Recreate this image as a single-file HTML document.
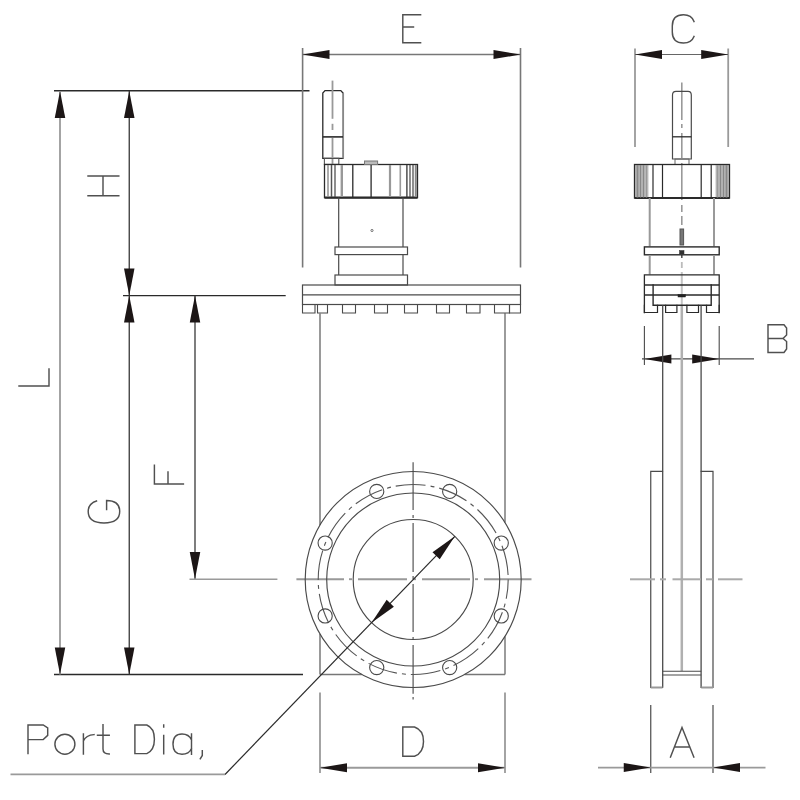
<!DOCTYPE html>
<html><head><meta charset="utf-8"><title>Gate valve drawing</title>
<style>html,body{margin:0;padding:0;background:#fff;font-family:"Liberation Sans",sans-serif;}svg{display:block}</style>
</head><body>
<svg width="800" height="800" viewBox="0 0 800 800">
<rect width="800" height="800" fill="#ffffff"/>
<line x1="54" y1="90.75" x2="309.5" y2="90.75" stroke="#2a2a2a" stroke-width="1.4" />
<line x1="123" y1="295.6" x2="285.7" y2="295.6" stroke="#2a2a2a" stroke-width="1.4" />
<line x1="54" y1="674.5" x2="303" y2="674.5" stroke="#2a2a2a" stroke-width="1.4" />
<line x1="60" y1="91" x2="60" y2="674.5" stroke="#9a9a9a" stroke-width="1.8" />
<line x1="129.25" y1="91" x2="129.25" y2="674.5" stroke="#383838" stroke-width="1.3" />
<line x1="195" y1="295.6" x2="195" y2="579" stroke="#383838" stroke-width="1.3" />
<polygon points="60.00,91.00 65.25,118.00 54.75,118.00" fill="#1c1616"/>
<polygon points="60.00,674.50 54.75,647.50 65.25,647.50" fill="#1c1616"/>
<polygon points="129.25,91.00 134.50,118.00 124.00,118.00" fill="#1c1616"/>
<polygon points="129.25,295.60 124.00,268.60 134.50,268.60" fill="#1c1616"/>
<polygon points="129.25,295.60 134.50,322.60 124.00,322.60" fill="#1c1616"/>
<polygon points="129.25,674.50 124.00,647.50 134.50,647.50" fill="#1c1616"/>
<polygon points="195.00,295.60 200.25,322.60 189.75,322.60" fill="#1c1616"/>
<polygon points="195.00,579.00 189.75,552.00 200.25,552.00" fill="#1c1616"/>
<line x1="189.5" y1="579.2" x2="277.4" y2="579.2" stroke="#9a9a9a" stroke-width="1.6" />
<line x1="296.4" y1="579.2" x2="344" y2="579.2" stroke="#999" stroke-width="1.9" />
<line x1="349" y1="579.2" x2="352" y2="579.2" stroke="#999" stroke-width="1.9" />
<line x1="358" y1="579.2" x2="407" y2="579.2" stroke="#999" stroke-width="1.9" />
<line x1="413" y1="579.2" x2="416" y2="579.2" stroke="#999" stroke-width="1.9" />
<line x1="422" y1="579.2" x2="470" y2="579.2" stroke="#999" stroke-width="1.9" />
<line x1="475" y1="579.2" x2="478" y2="579.2" stroke="#999" stroke-width="1.9" />
<line x1="484" y1="579.2" x2="531.5" y2="579.2" stroke="#999" stroke-width="1.9" />
<line x1="413.1" y1="462.3" x2="413.1" y2="510" stroke="#555" stroke-width="1.2" />
<line x1="413.1" y1="515" x2="413.1" y2="518" stroke="#555" stroke-width="1.2" />
<line x1="413.1" y1="523" x2="413.1" y2="572" stroke="#555" stroke-width="1.2" />
<line x1="413.1" y1="576" x2="413.1" y2="579" stroke="#555" stroke-width="1.2" />
<line x1="413.1" y1="584" x2="413.1" y2="632" stroke="#555" stroke-width="1.2" />
<line x1="413.1" y1="637" x2="413.1" y2="640" stroke="#555" stroke-width="1.2" />
<line x1="413.1" y1="645" x2="413.1" y2="693.7" stroke="#555" stroke-width="1.2" />
<line x1="413.1" y1="697" x2="413.1" y2="699.6" stroke="#555" stroke-width="1.2" />
<line x1="302.6" y1="48" x2="302.6" y2="267.5" stroke="#777" stroke-width="1.6" />
<line x1="520.5" y1="48" x2="520.5" y2="267.5" stroke="#777" stroke-width="1.6" />
<line x1="302.5" y1="54.6" x2="520.5" y2="54.6" stroke="#777" stroke-width="1.5" />
<polygon points="302.50,54.60 329.50,50.10 329.50,59.10" fill="#1c1616"/>
<polygon points="520.50,54.60 493.50,59.10 493.50,50.10" fill="#1c1616"/>
<line x1="635" y1="48.5" x2="635" y2="147" stroke="#9a9a9a" stroke-width="1.8" />
<line x1="728.2" y1="48.5" x2="728.2" y2="147" stroke="#9a9a9a" stroke-width="1.8" />
<line x1="635" y1="54.5" x2="728" y2="54.5" stroke="#666" stroke-width="1.2" />
<polygon points="635.00,54.50 662.00,50.00 662.00,59.00" fill="#1c1616"/>
<polygon points="728.20,54.50 701.20,59.00 701.20,50.00" fill="#1c1616"/>
<line x1="644.4" y1="326" x2="644.4" y2="365" stroke="#4a4a4a" stroke-width="1.1" />
<line x1="719.2" y1="326" x2="719.2" y2="365" stroke="#4a4a4a" stroke-width="1.1" />
<line x1="642" y1="358.9" x2="754" y2="358.9" stroke="#4a4a4a" stroke-width="1.2" />
<polygon points="644.40,358.90 671.40,354.40 671.40,363.40" fill="#1c1616"/>
<polygon points="719.20,358.90 692.20,363.40 692.20,354.40" fill="#1c1616"/>
<line x1="650.75" y1="705" x2="650.75" y2="773" stroke="#4a4a4a" stroke-width="1.2" />
<line x1="713" y1="705" x2="713" y2="773" stroke="#4a4a4a" stroke-width="1.2" />
<line x1="598" y1="767.6" x2="765.5" y2="767.6" stroke="#9a9a9a" stroke-width="1.8" />
<polygon points="650.75,767.60 623.75,772.10 623.75,763.10" fill="#1c1616"/>
<polygon points="713.00,767.60 740.00,763.10 740.00,772.10" fill="#1c1616"/>
<line x1="320" y1="692.5" x2="320" y2="773" stroke="#9a9a9a" stroke-width="1.8" />
<line x1="505" y1="692.5" x2="505" y2="773" stroke="#9a9a9a" stroke-width="1.8" />
<line x1="320" y1="767.8" x2="505" y2="767.8" stroke="#9a9a9a" stroke-width="2" />
<polygon points="320.00,767.80 347.00,763.30 347.00,772.30" fill="#1c1616"/>
<polygon points="505.00,767.80 478.00,772.30 478.00,763.30" fill="#1c1616"/>
<path d="M343,158.3 H322.8 V93 L325,90.6 H340.8 L343,93" stroke="#2a2a2a" stroke-width="1.3" fill="none" stroke-linecap="square" stroke-linejoin="miter" />
<line x1="343.1" y1="93" x2="343.1" y2="158.3" stroke="#888" stroke-width="1.9" />
<line x1="322.8" y1="136.9" x2="343" y2="136.9" stroke="#2a2a2a" stroke-width="1.6" />
<rect x="324.4" y="158.3" width="14.400000000000034" height="6.099999999999994" stroke="#555" stroke-width="1.1" fill="none"/>
<line x1="332.5" y1="80.6" x2="332.5" y2="118.8" stroke="#999" stroke-width="1.8" />
<line x1="332.5" y1="123.8" x2="332.5" y2="130" stroke="#999" stroke-width="1.8" />
<line x1="332.5" y1="138" x2="332.5" y2="157.5" stroke="#999" stroke-width="1.8" />
<line x1="332.5" y1="159" x2="332.5" y2="164" stroke="#999" stroke-width="1.8" />
<rect x="324.5" y="164.5" width="93.0" height="33.099999999999994" stroke="#2a2a2a" stroke-width="1.3" fill="none"/>
<line x1="324.5" y1="197.6" x2="417.5" y2="197.6" stroke="#2a2a2a" stroke-width="2.2" />
<line x1="328" y1="165" x2="328" y2="197" stroke="#888" stroke-width="1.4" />
<line x1="331.5" y1="165" x2="331.5" y2="197" stroke="#555" stroke-width="1.5" />
<line x1="335" y1="165" x2="335" y2="197" stroke="#444" stroke-width="1.2" />
<line x1="341.8" y1="165" x2="341.8" y2="197" stroke="#999" stroke-width="2.4" />
<line x1="352.8" y1="165" x2="352.8" y2="197" stroke="#2a2a2a" stroke-width="1.3" />
<line x1="371.1" y1="165" x2="371.1" y2="197" stroke="#2a2a2a" stroke-width="1.3" />
<line x1="390" y1="165" x2="390" y2="197" stroke="#999" stroke-width="2.2" />
<line x1="400.3" y1="165" x2="400.3" y2="197" stroke="#999" stroke-width="1.6" />
<line x1="406.9" y1="165" x2="406.9" y2="197" stroke="#333" stroke-width="1.3" />
<line x1="410" y1="165" x2="410" y2="197" stroke="#444" stroke-width="1.2" />
<line x1="413" y1="165" x2="413" y2="197" stroke="#444" stroke-width="1.2" />
<line x1="415.8" y1="165" x2="415.8" y2="197" stroke="#888" stroke-width="2" />
<rect x="364.5" y="161" width="13.100000000000023" height="3.5" stroke="#777" stroke-width="1" fill="#bbb"/>
<line x1="338.7" y1="197.6" x2="338.7" y2="247" stroke="#4a4a4a" stroke-width="1.2" />
<line x1="403" y1="197.6" x2="403" y2="247" stroke="#4a4a4a" stroke-width="1.2" />
<rect x="335" y="247" width="72.5" height="7.599999999999994" stroke="#4a4a4a" stroke-width="1.2" fill="none"/>
<line x1="338.7" y1="254.6" x2="338.7" y2="275" stroke="#4a4a4a" stroke-width="1.2" />
<line x1="403" y1="254.6" x2="403" y2="275" stroke="#4a4a4a" stroke-width="1.2" />
<rect x="335" y="275" width="72.5" height="10" stroke="#4a4a4a" stroke-width="1.2" fill="none"/>
<circle cx="372" cy="230.5" r="1.1" fill="none" stroke="#555" stroke-width="0.8"/>
<rect x="302.5" y="285" width="218.0" height="19.5" stroke="#4a4a4a" stroke-width="1.2" fill="none"/>
<line x1="302.5" y1="294.8" x2="520.5" y2="294.8" stroke="#4a4a4a" stroke-width="1.2" />
<path d="M302.5,304.5 V313 H315 V304.5" stroke="#4a4a4a" stroke-width="1.1" fill="none" stroke-linecap="square" stroke-linejoin="miter" />
<path d="M317.5,304.5 V313 H327.5 V304.5" stroke="#4a4a4a" stroke-width="1.1" fill="none" stroke-linecap="square" stroke-linejoin="miter" />
<path d="M342.5,304.5 V313 H355.5 V304.5" stroke="#4a4a4a" stroke-width="1.1" fill="none" stroke-linecap="square" stroke-linejoin="miter" />
<path d="M374.5,304.5 V313 H387.5 V304.5" stroke="#4a4a4a" stroke-width="1.1" fill="none" stroke-linecap="square" stroke-linejoin="miter" />
<path d="M404.5,304.5 V313 H417.5 V304.5" stroke="#4a4a4a" stroke-width="1.1" fill="none" stroke-linecap="square" stroke-linejoin="miter" />
<path d="M436.5,304.5 V313 H449.5 V304.5" stroke="#4a4a4a" stroke-width="1.1" fill="none" stroke-linecap="square" stroke-linejoin="miter" />
<path d="M466.5,304.5 V313 H480 V304.5" stroke="#4a4a4a" stroke-width="1.1" fill="none" stroke-linecap="square" stroke-linejoin="miter" />
<path d="M494.5,304.5 V313 H509.5 V304.5" stroke="#4a4a4a" stroke-width="1.1" fill="none" stroke-linecap="square" stroke-linejoin="miter" />
<path d="M509.5,304.5 V313 H520.5 V304.5" stroke="#4a4a4a" stroke-width="1.1" fill="none" stroke-linecap="square" stroke-linejoin="miter" />
<line x1="320" y1="313" x2="320" y2="525" stroke="#888" stroke-width="1.7" />
<line x1="320" y1="634" x2="320" y2="674.5" stroke="#888" stroke-width="1.7" />
<line x1="505" y1="313" x2="505" y2="522.6" stroke="#666" stroke-width="1.3" />
<line x1="505" y1="636.4" x2="505" y2="674.5" stroke="#666" stroke-width="1.3" />
<line x1="320" y1="674.5" x2="361.8" y2="674.5" stroke="#777" stroke-width="1.4" />
<line x1="464.6" y1="674.5" x2="505" y2="674.5" stroke="#777" stroke-width="1.4" />
<circle cx="413.2" cy="579.5" r="108" fill="none" stroke="#4a4a4a" stroke-width="1.15"/>
<circle cx="413.2" cy="579.5" r="86.5" fill="none" stroke="#4a4a4a" stroke-width="1.15"/>
<circle cx="413.2" cy="579.5" r="60" fill="none" stroke="#4a4a4a" stroke-width="1.15"/>
<circle cx="413.2" cy="579.5" r="95" fill="none" stroke="#555" stroke-width="1.1" stroke-dasharray="30 5 4 5" stroke-dashoffset="10.6"/>
<circle cx="449.67" cy="491.45" r="7.1" fill="none" stroke="#4a4a4a" stroke-width="1.1"/>
<circle cx="501.25" cy="543.03" r="7.1" fill="none" stroke="#4a4a4a" stroke-width="1.1"/>
<circle cx="501.25" cy="615.97" r="7.1" fill="none" stroke="#4a4a4a" stroke-width="1.1"/>
<circle cx="449.67" cy="667.55" r="7.1" fill="none" stroke="#4a4a4a" stroke-width="1.1"/>
<circle cx="376.73" cy="667.55" r="7.1" fill="none" stroke="#4a4a4a" stroke-width="1.1"/>
<circle cx="325.15" cy="615.97" r="7.1" fill="none" stroke="#4a4a4a" stroke-width="1.1"/>
<circle cx="325.15" cy="543.03" r="7.1" fill="none" stroke="#4a4a4a" stroke-width="1.1"/>
<circle cx="376.73" cy="491.45" r="7.1" fill="none" stroke="#4a4a4a" stroke-width="1.1"/>
<line x1="454.87950222753983" y1="536.339611979681" x2="225" y2="774.5" stroke="#2a2a2a" stroke-width="1.2" />
<polygon points="454.88,536.34 439.72,559.24 432.53,552.29" fill="#1c1616"/>
<polygon points="371.52,622.66 386.68,599.76 393.87,606.71" fill="#1c1616"/>
<line x1="10.5" y1="774.4" x2="225" y2="774.4" stroke="#9a9a9a" stroke-width="1.6" />
<line x1="681.8" y1="82.5" x2="681.8" y2="120" stroke="#999" stroke-width="1.6" />
<line x1="681.8" y1="124" x2="681.8" y2="128" stroke="#999" stroke-width="1.6" />
<line x1="681.8" y1="133" x2="681.8" y2="158" stroke="#999" stroke-width="1.6" />
<line x1="681.8" y1="163" x2="681.8" y2="200" stroke="#999" stroke-width="1.6" />
<line x1="681.8" y1="205" x2="681.8" y2="212" stroke="#999" stroke-width="1.6" />
<line x1="681.8" y1="216" x2="681.8" y2="225" stroke="#999" stroke-width="1.6" />
<line x1="681.8" y1="255" x2="681.8" y2="258" stroke="#555" stroke-width="1.6" />
<line x1="681.8" y1="262" x2="681.8" y2="268" stroke="#bbb" stroke-width="1.8" />
<line x1="681.8" y1="272" x2="681.8" y2="305" stroke="#c4c4c4" stroke-width="2" />
<line x1="681.8" y1="305" x2="681.8" y2="671" stroke="#b0b0b0" stroke-width="2.5" />
<path d="M672.5,159 V95 Q672.5,91.3 676,91.3 H688 Q691.3,91.3 691.3,95 V159 Z" stroke="#4a4a4a" stroke-width="1.2" fill="none" stroke-linecap="square" stroke-linejoin="miter" />
<line x1="672.5" y1="136.8" x2="691.3" y2="136.8" stroke="#2a2a2a" stroke-width="1.3" />
<rect x="675" y="159" width="14" height="5.5" stroke="#666" stroke-width="1" fill="none"/>
<rect x="634.5" y="164.5" width="14" height="33.5" fill="#c4c4c4"/>
<rect x="715.5" y="164.5" width="14" height="33.5" fill="#c4c4c4"/>
<rect x="634.5" y="164.5" width="95.0" height="33.5" stroke="#2a2a2a" stroke-width="1.3" fill="none"/>
<line x1="634.5" y1="198" x2="729.5" y2="198" stroke="#2a2a2a" stroke-width="2" />
<line x1="637.5" y1="165" x2="637.5" y2="197.5" stroke="#888" stroke-width="2" />
<line x1="640.5" y1="165" x2="640.5" y2="197.5" stroke="#888" stroke-width="1.6" />
<line x1="643.5" y1="165" x2="643.5" y2="197.5" stroke="#888" stroke-width="1.6" />
<line x1="646.5" y1="165" x2="646.5" y2="197.5" stroke="#999" stroke-width="1.6" />
<line x1="653" y1="165" x2="653" y2="197.5" stroke="#2a2a2a" stroke-width="1.2" />
<line x1="662.5" y1="165" x2="662.5" y2="197.5" stroke="#2a2a2a" stroke-width="1.2" />
<line x1="701.2" y1="165" x2="701.2" y2="197.5" stroke="#2a2a2a" stroke-width="1.2" />
<line x1="711.2" y1="165" x2="711.2" y2="197.5" stroke="#2a2a2a" stroke-width="1.2" />
<line x1="717.5" y1="165" x2="717.5" y2="197.5" stroke="#999" stroke-width="1.8" />
<line x1="720.5" y1="165" x2="720.5" y2="197.5" stroke="#888" stroke-width="1.6" />
<line x1="723.5" y1="165" x2="723.5" y2="197.5" stroke="#888" stroke-width="1.6" />
<line x1="726.5" y1="165" x2="726.5" y2="197.5" stroke="#888" stroke-width="2" />
<line x1="649.7" y1="198" x2="649.7" y2="246.3" stroke="#999" stroke-width="2" />
<line x1="714" y1="198" x2="714" y2="246.3" stroke="#999" stroke-width="2" />
<rect x="644.4" y="246.9" width="74.80000000000007" height="7.900000000000006" stroke="#2a2a2a" stroke-width="1.4" fill="none"/>
<line x1="649.7" y1="255" x2="649.7" y2="274.5" stroke="#999" stroke-width="2" />
<line x1="714" y1="255" x2="714" y2="274.5" stroke="#999" stroke-width="2" />
<path d="M644.4,312.5 V274.8 H719.2 V312.5" stroke="#2a2a2a" stroke-width="1.3" fill="none" stroke-linecap="square" stroke-linejoin="miter" />
<line x1="644.4" y1="285" x2="719.2" y2="285" stroke="#2a2a2a" stroke-width="1.4" />
<line x1="644.4" y1="295" x2="719.2" y2="295" stroke="#2a2a2a" stroke-width="1.4" />
<path d="M653.1,285 V305.3 H711.2 V285" stroke="#2a2a2a" stroke-width="1.4" fill="none" stroke-linecap="square" stroke-linejoin="miter" />
<path d="M644.4,305.3 V312.5 H657.5 V305.3" stroke="#2a2a2a" stroke-width="1.2" fill="none" stroke-linecap="square" stroke-linejoin="miter" />
<path d="M665.6,305.3 V312.5 H676.9 V305.3" stroke="#2a2a2a" stroke-width="1.2" fill="none" stroke-linecap="square" stroke-linejoin="miter" />
<path d="M686.9,305.3 V312.5 H698.5 V305.3" stroke="#2a2a2a" stroke-width="1.2" fill="none" stroke-linecap="square" stroke-linejoin="miter" />
<path d="M706.5,305.3 V312.5 H719.2 V305.3" stroke="#2a2a2a" stroke-width="1.2" fill="none" stroke-linecap="square" stroke-linejoin="miter" />
<rect x="680" y="229" width="3.6000000000000227" height="16" stroke="#555" stroke-width="1" fill="#777"/>
<rect x="679.5" y="250.5" width="4.5" height="3.5" stroke="#333" stroke-width="0.5" fill="#333"/>
<rect x="678" y="294.5" width="7.5" height="2.5" stroke="#222" stroke-width="0.5" fill="#222"/>
<line x1="662.7" y1="305.3" x2="662.7" y2="687.5" stroke="#4a4a4a" stroke-width="1.3" />
<line x1="701.1" y1="305.3" x2="701.1" y2="687.5" stroke="#4a4a4a" stroke-width="1.3" />
<path d="M662.5,471.3 H650.75 V687.5 H662.5" stroke="#4a4a4a" stroke-width="1.2" fill="none" stroke-linecap="square" stroke-linejoin="miter" />
<path d="M701.2,471.3 H713 V687.5 H701.2" stroke="#4a4a4a" stroke-width="1.2" fill="none" stroke-linecap="square" stroke-linejoin="miter" />
<line x1="650.75" y1="687.5" x2="662.5" y2="687.5" stroke="#999" stroke-width="2" />
<line x1="701.2" y1="687.5" x2="713" y2="687.5" stroke="#999" stroke-width="2" />
<line x1="662.5" y1="671.3" x2="701.2" y2="671.3" stroke="#4a4a4a" stroke-width="1.1" />
<line x1="662.5" y1="675" x2="701.2" y2="675" stroke="#4a4a4a" stroke-width="1.1" />
<line x1="630" y1="579.3" x2="655" y2="579.3" stroke="#aaa" stroke-width="2" />
<line x1="660" y1="579.3" x2="666" y2="579.3" stroke="#aaa" stroke-width="2" />
<line x1="672.5" y1="579.3" x2="701" y2="579.3" stroke="#aaa" stroke-width="2" />
<line x1="706" y1="579.3" x2="712.5" y2="579.3" stroke="#aaa" stroke-width="2" />
<line x1="718" y1="579.3" x2="742.5" y2="579.3" stroke="#aaa" stroke-width="2" />
<path d="M420.6,14.8 H402.8 V42.8 H420.6 M402.8,27 H413.5" stroke="#505050" stroke-width="1.45" fill="none" stroke-linecap="square" stroke-linejoin="miter" />
<path d="M694,21.5 Q691.5,14.8 683.5,14.8 Q672.3,14.8 672.3,26 V32 Q672.3,43 683.5,43 Q691.5,43 694,36.5" stroke="#505050" stroke-width="1.45" fill="none" stroke-linecap="square" stroke-linejoin="miter" />
<path d="M768,352.5 V324.8 H784 L786.6,328 V335 L783,338.5 H768 M783,338.5 L786.6,341.5 V349 L784,352.5 H768" stroke="#505050" stroke-width="1.45" fill="none" stroke-linecap="square" stroke-linejoin="miter" />
<path d="M670.5,757 L682,727.5 L693.8,757 M674.5,747 H689.7" stroke="#505050" stroke-width="1.45" fill="none" stroke-linecap="square" stroke-linejoin="miter" />
<path d="M402.8,727 H414.5 Q423.5,730 423.5,741.5 Q423.5,753 414.5,756.2 H402.8 Z" stroke="#505050" stroke-width="1.45" fill="none" stroke-linecap="square" stroke-linejoin="miter" />
<path d="M88,176 H118.8 M88,195.8 H118.8 M103,176 V195.8" stroke="#505050" stroke-width="1.45" fill="none" stroke-linecap="square" stroke-linejoin="miter" />
<path d="M19,386 H49 V369" stroke="#505050" stroke-width="1.45" fill="none" stroke-linecap="square" stroke-linejoin="miter" />
<path d="M154.4,465.3 V484 H183.4 M168,484 V472" stroke="#505050" stroke-width="1.45" fill="none" stroke-linecap="square" stroke-linejoin="miter" />
<path d="M96.5,501 Q88.2,503.5 88.2,511.5 Q88.2,522.9 104,522.9 Q119.7,522.9 119.7,511.5 Q119.7,500.5 106.6,500.5 V509.4" stroke="#505050" stroke-width="1.45" fill="none" stroke-linecap="square" stroke-linejoin="miter" />
<path d="M28,753.5 V725 H43.2 L47.7,728 V735.4 L43.2,739.6 H28" stroke="#505050" stroke-width="1.45" fill="none" stroke-linecap="square" stroke-linejoin="miter" />
<ellipse cx="64.9" cy="744.2" rx="10" ry="10" fill="none" stroke="#505050" stroke-width="1.45"/>
<path d="M83.4,734 V754 M83.4,741 Q86,735 94,734.6" stroke="#505050" stroke-width="1.45" fill="none" stroke-linecap="square" stroke-linejoin="miter" />
<path d="M103,724.6 V749 Q103,754 109.2,754 M97.5,735.2 H109.2" stroke="#505050" stroke-width="1.45" fill="none" stroke-linecap="square" stroke-linejoin="miter" />
<path d="M134.9,725 H146.8 Q154.4,728 154.4,739.3 Q154.4,750.5 146.8,753.6 H134.9 Z" stroke="#505050" stroke-width="1.45" fill="none" stroke-linecap="square" stroke-linejoin="miter" />
<path d="M163.7,735.4 V753.7 M163.7,725 V727" stroke="#505050" stroke-width="1.45" fill="none" stroke-linecap="square" stroke-linejoin="miter" />
<path d="M191.5,734 V754.3 M191.5,740 Q189,734 182,734 Q173,734 173,744.2 Q173,754.3 182,754.3 Q189,754.3 191.5,748.5" stroke="#505050" stroke-width="1.45" fill="none" stroke-linecap="square" stroke-linejoin="miter" />
<path d="M202.3,750.6 V755.5 L200.3,758.8" stroke="#505050" stroke-width="1.45" fill="none" stroke-linecap="square" stroke-linejoin="miter" />
</svg>
</body></html>
